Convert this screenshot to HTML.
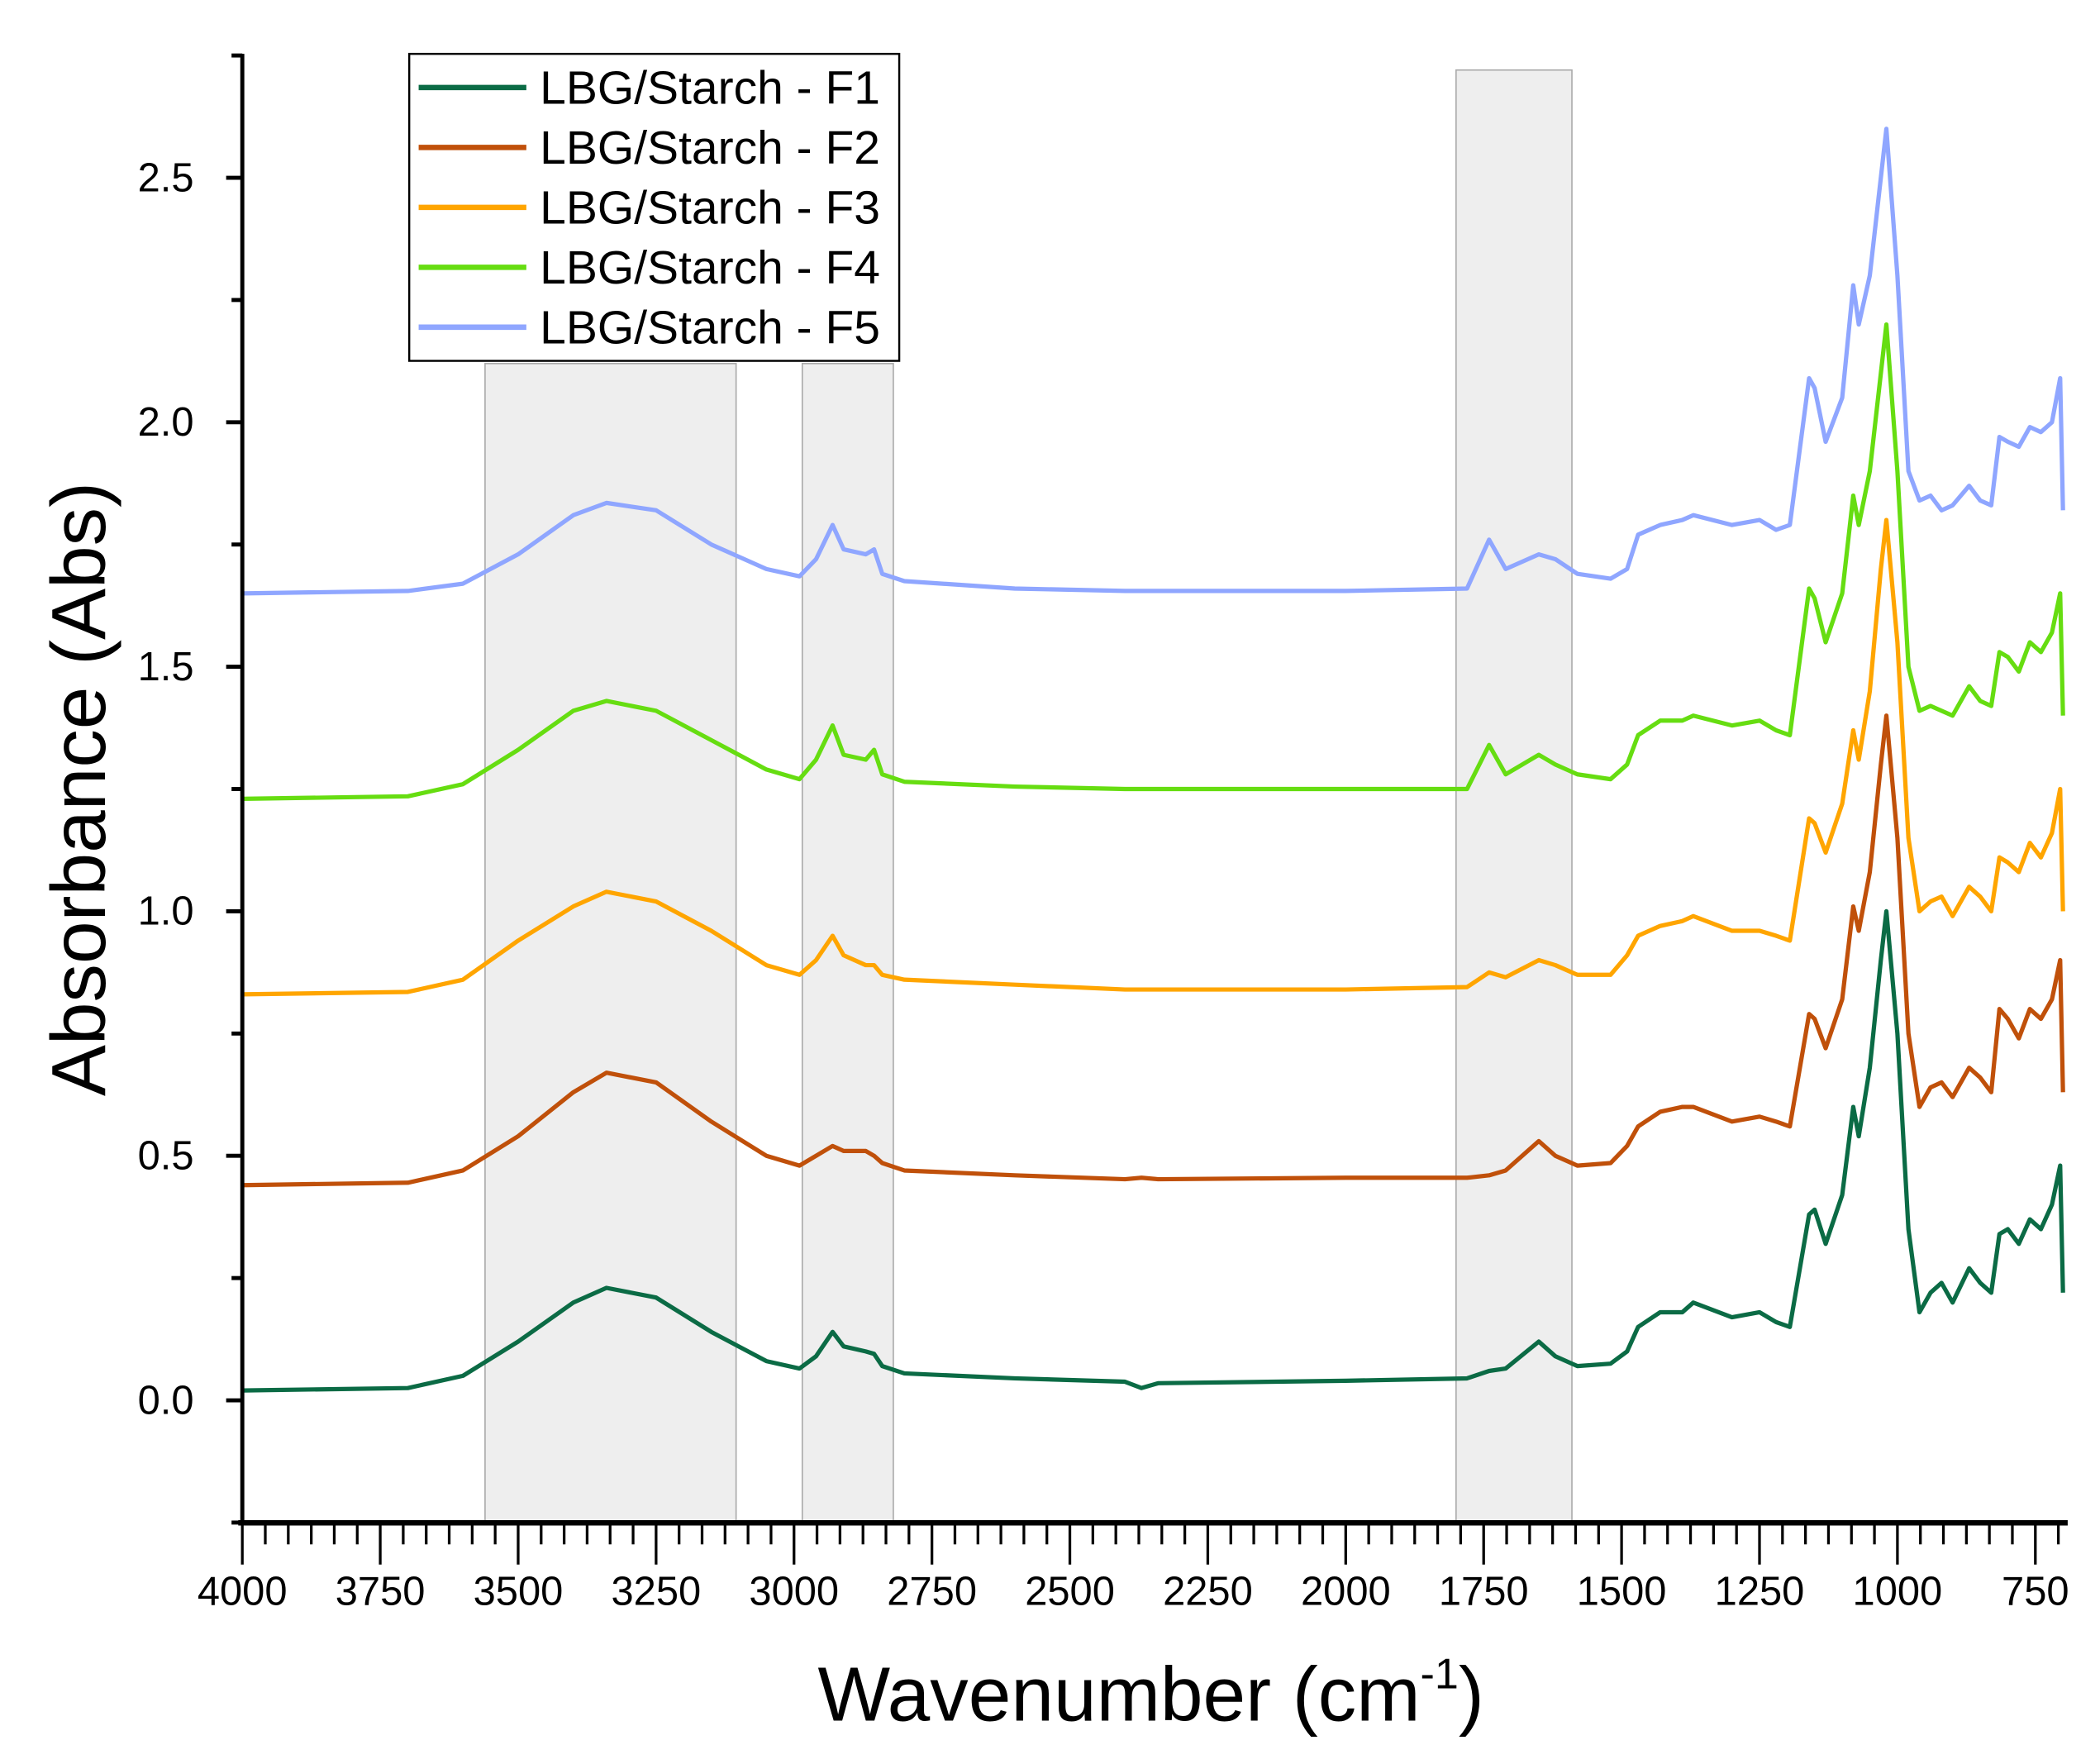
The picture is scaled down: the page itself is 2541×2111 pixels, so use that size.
<!DOCTYPE html>
<html><head><meta charset="utf-8"><style>
html,body{margin:0;padding:0;background:#fff;}
svg{display:block;font-family:"Liberation Sans",Arial,sans-serif;}
</style></head><body>
<svg id="chart" width="2541" height="2111" viewBox="0 0 1560 1296" xmlns="http://www.w3.org/2000/svg">
<rect x="0" y="0" width="1560" height="1296" fill="#fff"/>
<g id="bands"></g>
<g id="series"></g>
<g id="axes"></g>
<text transform="translate(78,586) rotate(-90)" text-anchor="middle" font-size="57">Absorbance (Abs)</text>
<text x="855" y="1278" text-anchor="middle" font-size="57">Wavenumber (cm<tspan dy="-24" font-size="32">-1</tspan><tspan dy="24">)</tspan></text>
<g id="legend"></g>
</svg>
<script>
const wn=[4000,3700,3600,3500,3400,3340,3250,3150,3050,2990,2960,2930,2910,2870,2855,2840,2800,2600,2400,2370,2340,2000,1780,1740,1710,1650,1620,1580,1520,1490,1470,1430,1390,1370,1300,1250,1220,1195,1160,1150,1130,1100,1080,1070,1050,1030,1020,1000,980,960,940,920,900,870,850,830,815,800,780,760,740,720,705,700];
const f1=[.02,.025,.05,.12,.2,.23,.21,.14,.08,.065,.09,.14,.11,.10,.095,.07,.055,.045,.038,.025,.035,.04,.045,.06,.065,.12,.09,.07,.075,.1,.15,.18,.18,.2,.17,.18,.16,.15,.38,.39,.32,.42,.6,.54,.68,.9,1.0,.75,.35,.18,.22,.24,.2,.27,.24,.22,.34,.35,.32,.37,.35,.4,.48,.22];
const f2=[.44,.445,.47,.54,.63,.67,.65,.57,.5,.48,.5,.52,.51,.51,.5,.485,.47,.46,.452,.455,.452,.455,.455,.46,.47,.53,.5,.48,.485,.52,.56,.59,.6,.6,.57,.58,.57,.56,.79,.78,.72,.82,1.01,.96,1.08,1.3,1.4,1.15,.75,.6,.64,.65,.62,.68,.66,.63,.8,.78,.74,.8,.78,.82,.9,.63];
const f3=[.83,.835,.86,.94,1.01,1.04,1.02,.96,.89,.87,.9,.95,.91,.89,.89,.87,.86,.85,.84,.84,.84,.84,.845,.875,.865,.9,.89,.87,.87,.91,.95,.97,.98,.99,.96,.96,.95,.94,1.19,1.18,1.12,1.22,1.37,1.31,1.45,1.7,1.8,1.55,1.15,1.0,1.02,1.03,.99,1.05,1.03,1.0,1.11,1.1,1.08,1.14,1.11,1.16,1.25,1.0];
const f4=[1.23,1.235,1.26,1.33,1.41,1.43,1.41,1.35,1.29,1.27,1.31,1.38,1.32,1.31,1.33,1.28,1.265,1.255,1.25,1.25,1.25,1.25,1.25,1.34,1.28,1.32,1.3,1.28,1.27,1.3,1.36,1.39,1.39,1.4,1.38,1.39,1.37,1.36,1.66,1.64,1.55,1.65,1.85,1.79,1.9,2.1,2.2,1.9,1.5,1.41,1.42,1.41,1.4,1.46,1.43,1.42,1.53,1.52,1.49,1.55,1.53,1.57,1.65,1.4];
const f5=[1.65,1.655,1.67,1.73,1.81,1.835,1.82,1.75,1.7,1.685,1.72,1.79,1.74,1.73,1.74,1.69,1.675,1.66,1.655,1.655,1.655,1.655,1.66,1.76,1.7,1.73,1.72,1.69,1.68,1.7,1.77,1.79,1.8,1.81,1.79,1.8,1.78,1.79,2.09,2.07,1.96,2.05,2.28,2.2,2.3,2.5,2.6,2.3,1.9,1.84,1.85,1.82,1.83,1.87,1.84,1.83,1.97,1.96,1.95,1.99,1.98,2.0,2.09,1.82];
const seriesNames=["LBG/Starch - F1","LBG/Starch - F2","LBG/Starch - F3","LBG/Starch - F4","LBG/Starch - F5"];
const xTicks=[4000,3750,3500,3250,3000,2750,2500,2250,2000,1750,1500,1250,1000,750];
const yTicks=[0.0,0.5,1.0,1.5,2.0,2.5];
const bandStarts=[3560,2985,1800];
const bandEnds=[3105,2820,1590];

const NS="http://www.w3.org/2000/svg";
const colors=["#0b6b45","#c0500a","#ffa500","#66dd11","#8fa6ff"];
const data=[f1,f2,f3,f4,f5];
const X=w=>180+(4000-w)*(102.46/250);
const Y=a=>1040-a*363.2;
function mk(tag,attrs,parent){const e=document.createElementNS(NS,tag);for(const k in attrs)e.setAttribute(k,attrs[k]);parent.appendChild(e);return e;}
const bands=document.getElementById('bands');
const bandTops=[270,270,52];
bandStarts.forEach((s,i)=>{
  const r=mk('rect',{x:X(s),y:bandTops[i],width:X(bandEnds[i])-X(s),height:1131-bandTops[i],fill:'#eeeeee',stroke:'#aaaaaa','stroke-width':1},bands);
  
  
});
const sg=document.getElementById('series');
data.forEach((d,i)=>{
  const p=mk('polyline',{points:wn.map((w,j)=>X(w).toFixed(1)+','+Y(d[j]).toFixed(1)).join(' '),fill:'none',stroke:colors[i],'stroke-width':3.2,'stroke-linejoin':'round'},sg);
  
  
});
const ax=document.getElementById('axes');
const xa=mk('line',{x1:177,y1:1131,x2:1536,y2:1131,stroke:'#000','stroke-width':4},ax);


const ya=mk('line',{x1:180,y1:40,x2:180,y2:1133,stroke:'#000','stroke-width':3},ax);


xTicks.forEach(t=>{
  mk('line',{x1:X(t),y1:1131,x2:X(t),y2:1162,stroke:'#000','stroke-width':2},ax);
  for(let k=1;k<6;k++){const w=t-k*250/6; if(w<700)break; mk('line',{x1:X(w),y1:1131,x2:X(w),y2:1147,stroke:'#000','stroke-width':2},ax);}
  const tx=mk('text',{x:X(t),y:1192,'text-anchor':'middle','font-size':30},ax);
  tx.textContent=t;
  
  
});
yTicks.forEach(t=>{
  mk('line',{x1:168,y1:Y(t),x2:180,y2:Y(t),stroke:'#000','stroke-width':3},ax);
  const ty=mk('text',{x:144,y:Y(t)+10,'text-anchor':'end','font-size':30},ax);
  ty.textContent=t.toFixed(1);
  
  
});
[-0.25,0.25,0.75,1.25,1.75,2.25,2.75].forEach(t=>{mk('line',{x1:172,y1:Y(t),x2:180,y2:Y(t),stroke:'#000','stroke-width':3},ax);});
const lg=document.getElementById('legend');
mk('rect',{x:304,y:40,width:364,height:228,fill:'#fff',stroke:'#000','stroke-width':1.5},lg);
seriesNames.forEach((n,i)=>{
  const yy=65+i*44.5;
  const l=mk('line',{x1:311,y1:yy,x2:391,y2:yy,stroke:colors[i],'stroke-width':4},lg);
  
  
  const t=mk('text',{x:401,y:yy+12,'font-size':35},lg);
  t.textContent=n;
  
  
});
</script>
</body></html>
